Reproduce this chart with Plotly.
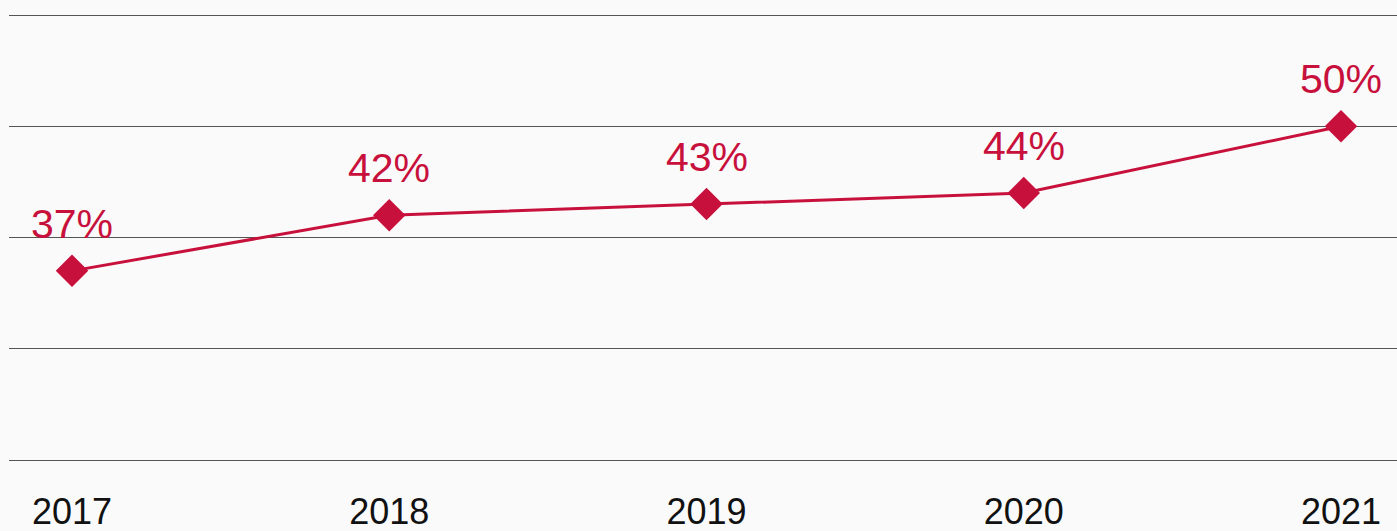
import plotly.graph_objects as go

years = [2017, 2018, 2019, 2020, 2021]
share = [37, 42, 43, 44, 50]
labels = ["37%", "42%", "43%", "44%", "50%"]
tick_vals = [2017, 2018, 2019, 2020, 2021]
tick_text = ["2017", "2018", "2019", "2020", "2021"]
grid_vals = [20, 30, 40, 50, 60]

RED = "#C8103C"
BG = "#FAFAFA"
ext = 8 / 11.125

fig = go.Figure()
fig.add_trace(go.Scatter(
    x=years, y=share, mode="lines+markers",
    line=dict(color=RED, width=3),
    marker=dict(symbol="diamond", size=25, color=RED),
    hoverinfo="skip", showlegend=False,
))
for x, y, t in zip(years, share, labels):
    fig.add_annotation(x=x, y=y, text=t, showarrow=False, yanchor="bottom",
                       yshift=22, font=dict(family="Liberation Sans, Arial", size=41, color=RED))

fig.update_layout(
    width=1397, height=531,
    margin=dict(l=9, r=0, t=7, b=63),
    paper_bgcolor=BG, plot_bgcolor=BG,
    font=dict(family="Liberation Sans, Arial", color="#111111"),
)
fig.update_xaxes(
    range=[2016.8014, 2021.1765], tickvals=tick_vals, ticktext=tick_text,
    showgrid=False, zeroline=False, showline=False, automargin=False,
    tickfont=dict(size=36, color="#111111"), ticks="", ticklabelstandoff=19,
)
fig.update_yaxes(
    range=[20 - ext, 60 + ext], tickvals=grid_vals, showticklabels=False,
    showgrid=True, gridcolor="#555555", gridwidth=1, zeroline=False, showline=False,
    automargin=False,
)
fig.write_html("out.html")
